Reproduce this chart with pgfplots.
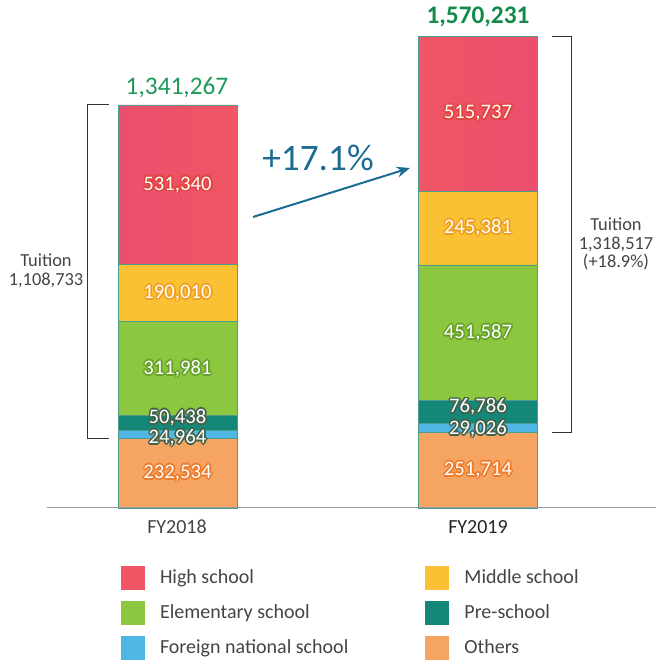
\documentclass[border=0pt]{standalone}
\usepackage{pgfplots}
\pgfplotsset{compat=1.18}
\usepackage{fontspec}
\setmainfont{Carlito}
\usetikzlibrary{arrows.meta}
\definecolor{chs}{HTML}{EF5565}
\definecolor{chsd}{HTML}{EA4F6E}
\definecolor{chsl}{HTML}{F3877B}
\definecolor{cms}{HTML}{FBC134}
\definecolor{ces}{HTML}{8DC63F}
\definecolor{cps}{HTML}{158779}
\definecolor{cfs}{HTML}{4FB6E5}
\definecolor{cot}{HTML}{F6A461}
\definecolor{edge}{HTML}{4E9C8C}
\definecolor{hred}{HTML}{E3443C}
\definecolor{hyel}{HTML}{EFA020}
\definecolor{hgrn}{HTML}{68A12C}
\definecolor{hdrk}{HTML}{42614A}
\definecolor{horg}{HTML}{EE7A2A}
\definecolor{txt}{HTML}{444444}
\definecolor{gtop}{HTML}{1E9857}
\definecolor{gtopb}{HTML}{138A4A}
\definecolor{arr}{HTML}{1C6B92}
\pgfdeclarehorizontalshading{hsshade}{100bp}{color(0bp)=(chsd); color(25bp)=(chsd); color(38bp)=(chs); color(50bp)=(chsl); color(62bp)=(chs); color(75bp)=(chsd); color(100bp)=(chsd)}
\newcommand\glow[3]{%
  \node[text=#2] at ([shift={(1.3pt,0pt)}]#1) {#3};
  \node[text=#2] at ([shift={(-1.3pt,0pt)}]#1) {#3};
  \node[text=#2] at ([shift={(0pt,1.3pt)}]#1) {#3};
  \node[text=#2] at ([shift={(0pt,-1.3pt)}]#1) {#3};
  \node[text=#2] at ([shift={(0.92pt,0.92pt)}]#1) {#3};
  \node[text=#2] at ([shift={(-0.92pt,0.92pt)}]#1) {#3};
  \node[text=#2] at ([shift={(0.92pt,-0.92pt)}]#1) {#3};
  \node[text=#2] at ([shift={(-0.92pt,-0.92pt)}]#1) {#3};
  \node[text=white] at (#1) {#3};}
\begin{document}
\begin{tikzpicture}
\path[use as bounding box] (0,0) rectangle (492pt,495.75pt);
\begin{axis}[
  at={(20.4375pt,114.75pt)}, anchor=south west,
  scale only axis, width=450.75pt, height=360.7pt,
  xmin=-0.5, xmax=1.5, ymin=0, ymax=1600000,
  axis lines=none, xtick=\empty, ytick=\empty,
  ybar stacked, bar width=89.25pt,
  clip=false,
  legend style={at={(0.156,-0.1206)}, anchor=north west, draw=none, fill=none,
    inner sep=0pt, outer sep=0pt, font=\fontsize{15}{18}\selectfont, text=txt,
    row sep=8.25pt, nodes={inner sep=0pt},
    /tikz/every odd column/.append style={column sep=11.25pt},
    /tikz/every even column/.append style={column sep=57.75pt}},
  legend columns=2, legend cell align=left, reverse legend,
  legend image code/.code={\fill[#1,draw=none] (0pt,-9pt) rectangle (18pt,9pt);},
]
\addplot[fill=cot, draw=edge, line width=0.4pt] coordinates {(0,232534) (1,251714)};
\addplot[fill=cfs, draw=edge, line width=0.4pt] coordinates {(0,24964) (1,29026)};
\addplot[fill=cps, draw=edge, line width=0.4pt] coordinates {(0,50438) (1,76786)};
\addplot[fill=ces, draw=edge, line width=0.4pt] coordinates {(0,311981) (1,451587)};
\addplot[fill=cms, draw=edge, line width=0.4pt] coordinates {(0,190010) (1,245381)};
\addplot[shade, shading=hsshade, draw=edge, line width=0.4pt,
  legend image code/.code={\fill[shade=false, fill=chs, draw=none] (0pt,-9pt) rectangle (18pt,9pt);}] coordinates {(0,531340) (1,515737)};
\legend{Others, Foreign national school, Pre-school, Elementary school, Middle school, High school}
\coordinate (a1) at (axis cs:0,116267);
\coordinate (a2) at (axis cs:0,233900);
\coordinate (a3) at (axis cs:0,300700);
\coordinate (a4) at (axis cs:0,463931);
\coordinate (a5) at (axis cs:0,714922);
\coordinate (a6) at (axis cs:0,1075597);
\coordinate (b1) at (axis cs:1,126400);
\coordinate (b2) at (axis cs:1,262800);
\coordinate (b3) at (axis cs:1,336000);
\coordinate (b4) at (axis cs:1,583320);
\coordinate (b5) at (axis cs:1,931804);
\coordinate (b6) at (axis cs:1,1312362);
\end{axis}
\begin{scope}[every node/.style={font=\fontsize{15.5}{18}\selectfont, inner sep=0pt}]
\glow{a1}{horg}{232,534}
\glow{a2}{hdrk}{24,964}
\glow{a3}{hdrk}{50,438}
\glow{a4}{hgrn}{311,981}
\glow{a5}{hyel}{190,010}
\glow{a6}{hred}{531,340}
\glow{b1}{horg}{251,714}
\glow{b2}{hdrk}{29,026}
\glow{b3}{hdrk}{76,786}
\glow{b4}{hgrn}{451,587}
\glow{b5}{hyel}{245,381}
\glow{b6}{hred}{515,737}
\end{scope}
\begin{scope}[x=0.75pt, y=-0.75pt, shift={(0pt,495.75pt)}]
\draw[color=gray!80, line width=0.75pt] (47,508) -- (656,508);
\draw[color=black!80, line width=0.6pt] (109,104) -- (87,104) -- (87,438) -- (109,438);
\draw[color=black!80, line width=0.6pt] (552,36) -- (571,36) -- (571,432.5) -- (552,432.5);
\node[font=\fontsize{13.8}{14}\selectfont, text=txt, align=center] at (46,271) {Tuition\\1,108,733};
\node[font=\fontsize{13.8}{14}\selectfont, text=txt, align=center] at (616,244) {Tuition\\1,318,517\\(+18.9\%)};
\node[font=\fontsize{19}{22}\selectfont, text=gtop] at (177,88) {1,341,267};
\node[font=\fontsize{19}{22}\selectfont\bfseries, text=gtopb] at (478,17) {1,570,231};
\node[font=\fontsize{15}{18}\selectfont, text=txt] at (177,527) {FY2018};
\node[font=\fontsize{15}{18}\selectfont, text=black!85] at (478,527) {FY2019};
\node[font=\fontsize{28}{32}\selectfont, text=arr] at (318,158) {+17.1\%};
\draw[color=arr, line width=1.5pt, -{Stealth[length=10pt,width=8pt]}] (253,217) -- (410,168);
\end{scope}
\end{tikzpicture}
\end{document}
